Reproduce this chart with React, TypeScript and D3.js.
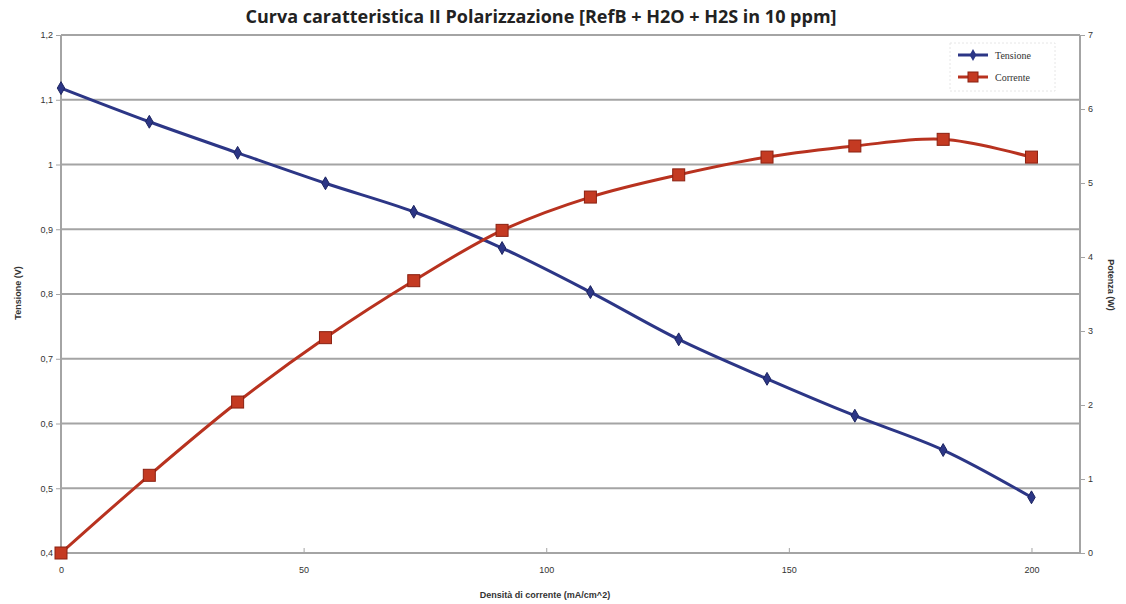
import * as d3 from "d3";
import React from "react";

// dati
const densita = [0, 18.2, 36.4, 54.5, 72.7, 90.9, 109.1, 127.3, 145.5, 163.6, 181.8, 200];
const tensione = [1.118, 1.066, 1.018, 0.971, 0.927, 0.871, 0.803, 0.73, 0.669, 0.612, 0.559, 0.486];
const potenza = [0, 1.05, 2.04, 2.91, 3.68, 4.36, 4.81, 5.11, 5.35, 5.5, 5.59, 5.35];
const xTicks = [0, 50, 100, 150, 200];
const yLeftTicks = [0.4, 0.5, 0.6, 0.7, 0.8, 0.9, 1.0, 1.1, 1.2];
const yRightTicks = [0, 1, 2, 3, 4, 5, 6, 7];
const legendItems = ["Tensione", "Corrente"];

const W = 1126;
const H = 604;
const BLUE = "#2c3686";
const RED = "#b8321f";

export default function App() {
  const ref = React.useRef<SVGSVGElement>(null);

  React.useEffect(() => {
    if (!ref.current) return;
    const svg = d3.select(ref.current);
    svg.selectAll("*").remove();

    const left = 61;
    const right = 1080;
    const top = 35;
    const bottom = 553;

    const x = d3.scaleLinear().domain([0, 210]).range([left, right]);
    const yL = d3.scaleLinear().domain([0.4, 1.2]).range([bottom, top]);
    const yR = d3.scaleLinear().domain([0, 7]).range([bottom, top]);

    svg.append("rect").attr("width", W).attr("height", H).attr("fill", "#fff");

    // griglia orizzontale
    svg
      .append("g")
      .selectAll("line")
      .data(yLeftTicks)
      .enter()
      .append("line")
      .attr("x1", left)
      .attr("x2", right)
      .attr("y1", (d) => yL(d))
      .attr("y2", (d) => yL(d))
      .attr("stroke", "#a4a4a4")
      .attr("stroke-width", 2);

    // assi
    const axisColor = "#a4a4a4";
    svg.append("line").attr("x1", left).attr("x2", left).attr("y1", top).attr("y2", bottom)
      .attr("stroke", axisColor).attr("stroke-width", 2);
    svg.append("line").attr("x1", right).attr("x2", right).attr("y1", top).attr("y2", bottom)
      .attr("stroke", axisColor).attr("stroke-width", 2);

    const fmt = (d: number) => d3.format(".1f")(d).replace(".0", "").replace(".", ",");

    const gL = svg.append("g").attr("transform", `translate(${left},0)`)
      .call(d3.axisLeft(yL).tickValues(yLeftTicks).tickSize(5).tickFormat((d) => fmt(+d)));
    const gR = svg.append("g").attr("transform", `translate(${right},0)`)
      .call(d3.axisRight(yR).tickValues(yRightTicks).tickSize(5).tickFormat((d) => `${d}`));
    const gX = svg.append("g").attr("transform", `translate(0,${bottom})`)
      .call(d3.axisBottom(x).tickValues(xTicks).tickSize(5).tickFormat((d) => `${d}`));

    [gL, gR, gX].forEach((g) => {
      g.select(".domain").remove();
      g.selectAll(".tick line").attr("stroke", axisColor);
      g.selectAll(".tick text")
        .attr("fill", "#333")
        .attr("font-family", "Liberation Sans, Arial, sans-serif")
        .attr("font-size", 9);
    });
    gX.selectAll(".tick line").attr("y1", -5).attr("y2", 0);
    gX.selectAll(".tick text").attr("y", 14);

    // linee
    const lineV = d3
      .line<number>()
      .x((_, i) => x(densita[i]))
      .y((d) => yL(d))
      .curve(d3.curveCatmullRom.alpha(0.5));
    const lineP = d3
      .line<number>()
      .x((_, i) => x(densita[i]))
      .y((d) => yR(d))
      .curve(d3.curveCatmullRom.alpha(0.5));

    svg.append("path").datum(tensione).attr("d", lineV).attr("fill", "none")
      .attr("stroke", BLUE).attr("stroke-width", 3);
    svg.append("path").datum(potenza).attr("d", lineP).attr("fill", "none")
      .attr("stroke", RED).attr("stroke-width", 3);

    // marcatori
    svg
      .append("g")
      .selectAll("path")
      .data(tensione)
      .enter()
      .append("path")
      .attr("d", d3.symbol(d3.symbolDiamond, 48)())
      .attr("transform", (d, i) => `translate(${x(densita[i])},${yL(d)})`)
      .attr("fill", BLUE)
      .attr("stroke", "#1c2460")
      .attr("stroke-width", 1);

    svg
      .append("g")
      .selectAll("rect")
      .data(potenza)
      .enter()
      .append("rect")
      .attr("x", (_, i) => x(densita[i]) - 6)
      .attr("y", (d) => yR(d) - 6)
      .attr("width", 12)
      .attr("height", 12)
      .attr("fill", "#c43a22")
      .attr("stroke", "#8a2010")
      .attr("stroke-width", 1);

    // legenda
    const lg = svg.append("g").attr("transform", "translate(950,43)");
    lg.append("rect").attr("width", 105).attr("height", 48).attr("fill", "#fff")
      .attr("stroke", "#e6e6e6").attr("stroke-dasharray", "2,2");
    legendItems.forEach((name, i) => {
      const cy = 12 + i * 22;
      const col = i === 0 ? BLUE : RED;
      lg.append("line").attr("x1", 8).attr("x2", 38).attr("y1", cy).attr("y2", cy)
        .attr("stroke", col).attr("stroke-width", 3);
      if (i === 0) {
        lg.append("path").attr("d", d3.symbol(d3.symbolDiamond, 40)())
          .attr("transform", `translate(23,${cy})`).attr("fill", col);
      } else {
        lg.append("rect").attr("x", 18).attr("y", cy - 5).attr("width", 10).attr("height", 10)
          .attr("fill", "#c43a22").attr("stroke", "#8a2010");
      }
      lg.append("text").attr("x", 45).attr("y", cy + 4).text(name)
        .attr("font-family", "Liberation Serif, serif").attr("font-size", 10).attr("fill", "#333");
    });

    // titoli
    svg.append("text").attr("x", 541).attr("y", 23).attr("text-anchor", "middle")
      .attr("font-family", "Open Sans, sans-serif").attr("font-weight", "bold").attr("font-size", 18)
      .attr("fill", "#222").text("Curva caratteristica II Polarizzazione [RefB + H2O + H2S in 10 ppm]");

    svg.append("text").attr("x", 545).attr("y", 598).attr("text-anchor", "middle")
      .attr("font-family", "Liberation Sans, Arial, sans-serif").attr("font-weight", "bold")
      .attr("font-size", 9).attr("fill", "#333").text("Densità di corrente (mA/cm^2)");

    svg.append("text").attr("transform", "translate(21,293) rotate(-90)").attr("text-anchor", "middle")
      .attr("font-family", "Liberation Sans, Arial, sans-serif").attr("font-weight", "bold")
      .attr("font-size", 9).attr("fill", "#333").text("Tensione (V)");

    svg.append("text").attr("transform", "translate(1108,285) rotate(90)").attr("text-anchor", "middle")
      .attr("font-family", "Liberation Sans, Arial, sans-serif").attr("font-weight", "bold")
      .attr("font-size", 9).attr("fill", "#333").text("Potenza (W)");
  }, []);

  return (
    <svg
      ref={ref}
      width={W}
      height={H}
      style={{ position: "absolute", left: 0, top: 0, display: "block" }}
    />
  );
}
